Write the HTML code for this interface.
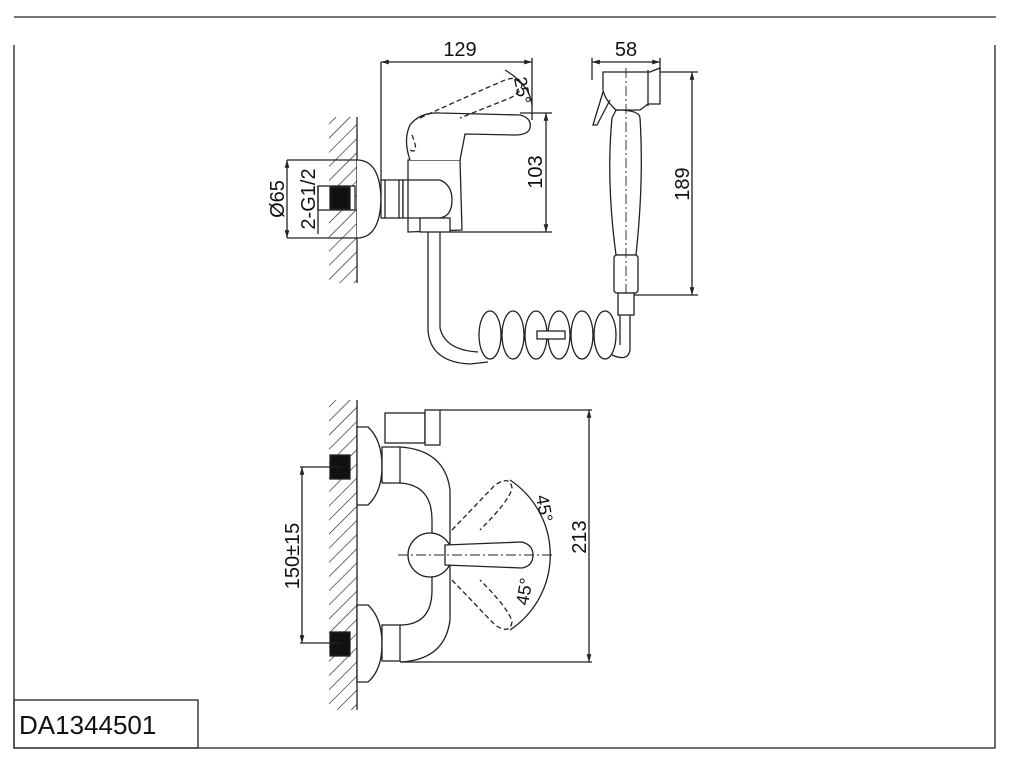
<!DOCTYPE html>
<html><head><style>
body{margin:0;background:#fff;}
svg{display:block;font-family:"Liberation Sans",sans-serif;}
</style></head><body>
<svg width="1009" height="764" viewBox="0 0 1009 764" xmlns="http://www.w3.org/2000/svg">
<defs>
<pattern id="h" width="10" height="10" patternUnits="userSpaceOnUse" patternTransform="rotate(45)">
<line x1="0" y1="0" x2="0" y2="10" stroke="#222" stroke-width="1.3"/>
</pattern>
<marker id="a" viewBox="0 0 10 10" refX="10" refY="5" markerWidth="6" markerHeight="6" orient="auto-start-reverse"><path d="M0,2 L10,5 L0,8z" fill="#222"/></marker>
</defs>
<g stroke="#222" fill="none" stroke-width="1.3">
<line x1="14" y1="17" x2="996" y2="17"/>
<polyline points="14,45 14,748 995,748 995,45"/>
<rect x="14" y="700" width="184" height="48"/>
</g>
<text x="19" y="734" font-size="26" fill="#111">DA1344501</text>

<!-- TOP VIEW -->
<g stroke="#222" fill="none" stroke-width="1.3">
<rect x="329" y="117" width="28" height="166" fill="url(#h)" stroke="none"/>
<line x1="357" y1="117" x2="357" y2="283"/>
<path d="M357,160 Q380,160 381,199 Q380,238 357,238" fill="#fff"/>
<rect x="318" y="186" width="37" height="24" fill="#fff"/>
<rect x="330" y="187" width="20" height="22" fill="#111"/>
<line x1="287" y1="160" x2="287" y2="238" marker-start="url(#a)" marker-end="url(#a)"/>
<line x1="287" y1="160" x2="357" y2="160"/><line x1="287" y1="238" x2="357" y2="238"/>
<line x1="318" y1="186" x2="318" y2="234"/>
<rect x="381" y="180" width="22" height="38" fill="#fff"/>
<line x1="385" y1="180" x2="385" y2="218"/><line x1="399" y1="180" x2="399" y2="218"/>
<path d="M403,180 L440,180 Q452,185 452,200 Q452,216 440,218 L403,218z" fill="#fff"/>
<path d="M408,160 L460,160 L462,230 L408,232z" fill="none"/>
<rect x="420" y="218" width="30" height="14" fill="#fff"/>
<path d="M410,160 Q403,140 410,125 Q420,112 440,113 L520,115 Q532,118 530,128 Q528,135 515,135 L465,134 Q462,150 460,160" fill="#fff"/>
<path d="M412,135 Q420,155 410,150" stroke-dasharray="5,3"/>
<path d="M420,118 Q470,95 505,80 Q520,75 522,85 Q520,95 505,100 L460,118" stroke-dasharray="5,3"/>
<line x1="381" y1="62" x2="381" y2="180"/>
<line x1="381" y1="62" x2="532" y2="62" marker-start="url(#a)" marker-end="url(#a)"/>
<line x1="532" y1="58" x2="532" y2="120"/>
<line x1="520" y1="113" x2="552" y2="113"/><line x1="450" y1="232" x2="552" y2="232"/>
<line x1="546" y1="113" x2="546" y2="232" marker-start="url(#a)" marker-end="url(#a)"/>
<path d="M505,70 Q530,85 532,105" />
<!-- hose -->
<path d="M428,232 L428,330 Q430,362 470,364 L488,362"/>
<path d="M440,232 L440,328 Q445,350 478,352"/>
<g>
<ellipse cx="490" cy="335" rx="11" ry="24"/>
<ellipse cx="513" cy="335" rx="11" ry="24"/>
<ellipse cx="536" cy="335" rx="11" ry="24"/>
<ellipse cx="559" cy="335" rx="11" ry="24"/>
<ellipse cx="582" cy="335" rx="11" ry="24"/>
<ellipse cx="605" cy="335" rx="11" ry="24"/>
</g>
<path d="M612,355 Q628,362 630,350 L630,315"/>
<rect x="537" y="331" width="28" height="8" fill="#fff"/>
<line x1="620" y1="315" x2="620" y2="345"/>
<!-- hand shower -->
<path d="M603,72 L650,72 L660,68 L660,104 L648,104 L640,110 L616,110 Q605,100 603,90z" fill="#fff"/>
<line x1="648" y1="70" x2="648" y2="106"/>
<path d="M603,92 L593,125 L597,125 L610,100"/>
<path d="M616,110 Q640,110 640,118 Q644,180 636,255 L616,255 Q606,180 612,118z" fill="#fff"/>
<rect x="614" y="255" width="24" height="38" rx="3" fill="#fff"/>
<line x1="626" y1="68" x2="626" y2="300" stroke-dasharray="10,3,2,3" stroke-width="0.9"/>
<rect x="618" y="293" width="16" height="22" fill="#fff"/>
<line x1="592" y1="58" x2="592" y2="80"/>
<line x1="592" y1="62" x2="660" y2="62" marker-start="url(#a)" marker-end="url(#a)"/>
<line x1="660" y1="58" x2="660" y2="70"/>
<line x1="660" y1="72" x2="698" y2="72"/><line x1="634" y1="295" x2="698" y2="295"/>
<line x1="692" y1="72" x2="692" y2="295" marker-start="url(#a)" marker-end="url(#a)"/>
</g>
<g fill="#111" font-size="20">
<text x="460" y="56" text-anchor="middle">129</text>
<text x="626" y="56" text-anchor="middle">58</text>
<text transform="translate(542,172) rotate(-90)" text-anchor="middle">103</text>
<text transform="translate(689,184) rotate(-90)" text-anchor="middle">189</text>
<text transform="translate(284,199) rotate(-90)" text-anchor="middle">Ø65</text>
<text transform="translate(315,199) rotate(-90)" text-anchor="middle">2-G1/2</text>
<text transform="translate(514,78) rotate(80)" font-size="18">25°</text>
</g>

<!-- BOTTOM VIEW -->
<g stroke="#222" fill="none" stroke-width="1.3">
<rect x="329" y="400" width="28" height="310" fill="url(#h)" stroke="none"/>
<line x1="357" y1="400" x2="357" y2="710"/>
<path d="M357,427 L368,427 Q382,440 382,466 Q382,492 368,505 L357,505z" fill="#fff"/>
<path d="M357,605 L368,605 Q382,618 382,644 Q382,670 368,682 L357,682z" fill="#fff"/>
<rect x="330" y="455" width="20" height="24" fill="#111"/>
<rect x="330" y="632" width="20" height="24" fill="#111"/>
<rect x="382" y="447" width="18" height="36" fill="#fff"/>
<rect x="382" y="625" width="18" height="36" fill="#fff"/>
<path d="M400,447 Q445,450 450,490 L450,620 Q445,660 400,662" />
<path d="M400,483 Q432,485 432,520 L432,590 Q432,625 400,625"/>
<rect x="385" y="413" width="40" height="30" fill="#fff"/>
<rect x="425" y="410" width="15" height="35" fill="#fff"/>
<line x1="440" y1="410" x2="592" y2="410"/>
<line x1="400" y1="662" x2="592" y2="662"/>
<line x1="589" y1="410" x2="589" y2="662" marker-start="url(#a)" marker-end="url(#a)"/>
<line x1="300" y1="467" x2="340" y2="467"/><line x1="300" y1="643" x2="340" y2="643"/>
<line x1="302" y1="467" x2="302" y2="643" marker-start="url(#a)" marker-end="url(#a)"/>
<path d="M452,530 L495,485 Q510,475 512,488 Q510,500 480,530" stroke-dasharray="5,3"/>
<path d="M452,580 L495,625 Q510,635 512,622 Q510,610 480,580" stroke-dasharray="5,3"/>
<path d="M510,480 A90,90 0 0 1 510,630" />
<circle cx="430" cy="555" r="22" fill="#fff"/>
<path d="M445,545 L522,542 Q533,545 533,555 Q533,566 522,568 L445,565z" fill="#fff"/>
<line x1="398" y1="555" x2="552" y2="555" stroke-dasharray="10,3,2,3" stroke-width="0.9"/>
</g>
<g fill="#111" font-size="20">
<text transform="translate(586,537) rotate(-90)" text-anchor="middle">213</text>
<text transform="translate(299,556) rotate(-90)" text-anchor="middle">150±15</text>
<text transform="translate(536,496) rotate(80)" font-size="18">45°</text>
<text transform="translate(528,606) rotate(-80)" font-size="18">45°</text>
</g>
</svg>
</body></html>
